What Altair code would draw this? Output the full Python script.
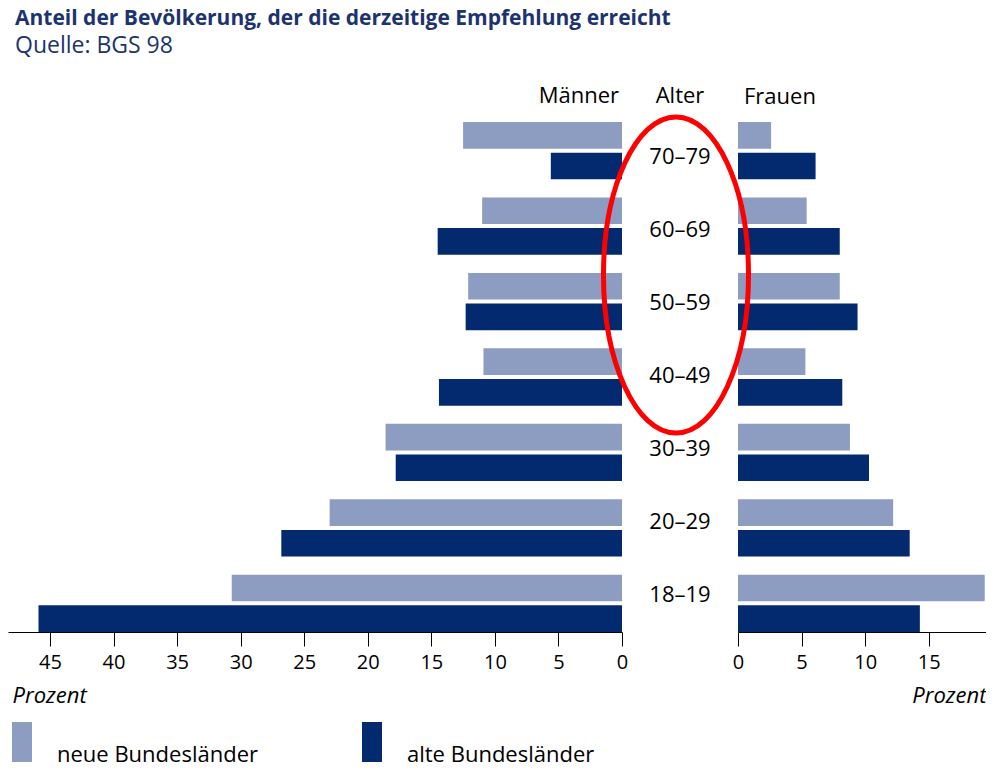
import altair as alt
import pandas as pd

# ---- data ----
ages = ["70–79", "60–69", "50–59", "40–49", "30–39", "20–29", "18–19"]
groups = ["neue Bundesländer", "alte Bundesländer"]
maenner_neue = [12.5, 11.0, 12.1, 10.9, 18.6, 23.0, 30.7]
maenner_alte = [5.6, 14.5, 12.3, 14.4, 17.8, 26.8, 45.9]
frauen_neue = [2.6, 5.4, 8.0, 5.3, 8.8, 12.2, 19.4]
frauen_alte = [6.1, 8.0, 9.4, 8.2, 10.3, 13.5, 14.3]
ticks_maenner = [45, 40, 35, 30, 25, 20, 15, 10, 5, 0]
ticks_frauen = [0, 5, 10, 15]

LIGHT = "#8c9dc1"
DARK = "#03296f"
NAVY = "#1c3370"
FONT = "Open Sans"

rows = []
for i, a in enumerate(ages):
    rows.append({"alter": a, "gruppe": groups[0], "geschlecht": "Männer", "wert": maenner_neue[i]})
    rows.append({"alter": a, "gruppe": groups[1], "geschlecht": "Männer", "wert": maenner_alte[i]})
    rows.append({"alter": a, "gruppe": groups[0], "geschlecht": "Frauen", "wert": frauen_neue[i]})
    rows.append({"alter": a, "gruppe": groups[1], "geschlecht": "Frauen", "wert": frauen_alte[i]})
df = pd.DataFrame(rows)
age_df = pd.DataFrame({"alter": ages})

PLOT_H = 510

# tall rectangle, drawn left of and above the symbol anchor point
legend_shape = "M -1 -2 L 0 -2 L 0 0 L -1 0 Z"

color = alt.Color(
    "gruppe:N",
    scale=alt.Scale(domain=groups, range=[LIGHT, DARK]),
    legend=alt.Legend(
        title=None,
        orient="none",
        legendX=4,
        legendY=PLOT_H + 110,
        direction="horizontal",
        symbolType=legend_shape,
        symbolSize=1600,
        symbolStrokeWidth=0,
        symbolOpacity=1,
        labelFont=FONT,
        labelFontSize=22,
        labelColor="black",
        labelBaseline="alphabetic",
        labelOffset=5,
        columnPadding=104,
        labelLimit=400,
        padding=0,
    ),
)

y_enc = alt.Y("alter:N", sort=ages, axis=None,
              scale=alt.Scale(paddingInner=0.24, paddingOuter=0))
yoff = alt.YOffset("gruppe:N", sort=groups,
                   scale=alt.Scale(paddingInner=0.13, paddingOuter=0))

axis_common = dict(
    grid=False,
    domainColor="black",
    domainWidth=1,
    tickColor="black",
    tickWidth=1,
    tickSize=14,
    labelFont=FONT,
    labelFontSize=20,
    labelColor="black",
    labelPadding=6,
    labelFlush=False,
    titleFont=FONT,
    titleFontSize=22,
    titleFontStyle="italic",
    titleFontWeight="normal",
    titleColor="black",
    titleBaseline="alphabetic",
)

panel_title = dict(font=FONT, fontSize=22, fontWeight="normal", color="black",
                   offset=14, frame="group")

left = (
    alt.Chart(df)
    .transform_filter(alt.datum.geschlecht == "Männer")
    .mark_bar(strokeWidth=0)
    .encode(
        x=alt.X("wert:Q",
                scale=alt.Scale(domain=[0, 48.3], reverse=True, nice=False, zero=True),
                axis=alt.Axis(values=ticks_maenner, title="Prozent", titleX=4,
                              titleY=70, titleAlign="left", **axis_common)),
        y=y_enc,
        yOffset=yoff,
        color=color,
    )
    .properties(width=614, height=PLOT_H,
                title=alt.TitleParams("Männer", anchor="end", dx=-3, **panel_title))
)

middle = (
    alt.Chart(age_df)
    .mark_text(font=FONT, fontSize=22, color="black", dy=-1)
    .encode(y=y_enc, x=alt.value(58), text="alter:N")
    .properties(width=116, height=PLOT_H,
                title=alt.TitleParams("Alter", anchor="middle", **panel_title))
)

right_bars = (
    alt.Chart(df)
    .transform_filter(alt.datum.geschlecht == "Frauen")
    .mark_bar(strokeWidth=0)
    .encode(
        x=alt.X("wert:Q",
                scale=alt.Scale(domain=[0, 19.5], nice=False, zero=True),
                axis=alt.Axis(values=ticks_frauen, title="Prozent", titleX=248,
                              titleY=70, titleAlign="right", **axis_common)),
        y=y_enc,
        yOffset=yoff,
        color=color,
    )
)

ellipse_path = ("M 0.459 0 C 0.459 0.5523 0.2535 1 0 1 C -0.2535 1 -0.459 0.5523 -0.459 0 "
                "C -0.459 -0.5523 -0.2535 -1 0 -1 C 0.2535 -1 0.459 -0.5523 0.459 0 Z")
ellipse = (
    alt.Chart(pd.DataFrame({"k": [0]}))
    .mark_point(shape=ellipse_path, size=316 * 316, filled=False, stroke="#ff0000",
                strokeWidth=5, opacity=1)
    .encode(x=alt.value(-62), y=alt.value(153))
)

right = (
    alt.layer(right_bars, ellipse)
    .properties(width=248, height=PLOT_H,
                title=alt.TitleParams("Frauen", anchor="start", dx=6, dy=16, **panel_title))
)

chart = (
    alt.hconcat(left, middle, right, spacing=0, bounds="flush")
    .properties(
        padding=0,
        title=alt.TitleParams(
            "Anteil der Bevölkerung, der die derzeitige Empfehlung erreicht",
            subtitle="Quelle: BGS 98",
            anchor="start",
            frame="group",
            dx=7,
            dy=4,
            font=FONT,
            fontSize=21,
            fontWeight="bold",
            color=NAVY,
            subtitleFont=FONT,
            subtitleFontSize=23,
            subtitleColor=NAVY,
            subtitlePadding=6,
            offset=31,
        ),
    )
    .configure_view(stroke=None)
)

chart.save("out.html", embed_options={"renderer": "svg", "actions": False})
